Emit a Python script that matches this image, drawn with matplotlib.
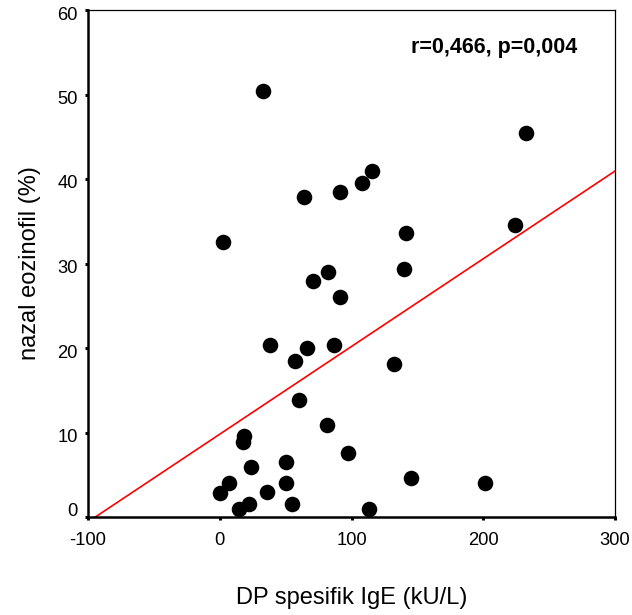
import matplotlib
matplotlib.use("Agg")
import matplotlib.pyplot as plt
import matplotlib.transforms as mtransforms
import numpy as np

# ---- data ----
dp_ige = [32.8, 232.2, 115.3, 108.2, 91.1, 64.1, 2.8, 224.1, 141.0, 139.7,
          82.5, 71.1, 91.3, 38.1, 66.6, 86.8, 57.3, 132.1, 59.8, 81.2,
          18.7, 17.5, 97.6, 23.8, 50.2, 144.8, 201.5, 6.9, 50.2, 0.5,
          35.6, 22.5, 14.4, 54.5, 113.4]
eozinofil = [50.4, 45.4, 40.9, 39.5, 38.5, 37.9, 32.5, 34.6, 33.6, 29.4,
             29.0, 27.9, 26.0, 20.4, 20.0, 20.4, 18.5, 18.1, 13.8, 10.9,
             9.6, 8.9, 7.6, 5.95, 6.5, 4.6, 4.0, 4.0, 4.0, 2.8,
             2.9, 1.5, 1.0, 1.5, 1.0]
fit_intercept = 9.8
fit_slope = 0.1038
x_ticks = [-100, 0, 100, 200, 300]
y_ticks = [0, 10, 20, 30, 40, 50, 60]
annotation = "r=0,466, p=0,004"
x_label = "DP spesifik IgE (kU/L)"
y_label = "nazal eozinofil (%)"

plt.rcParams['font.family'] = ['Liberation Sans', 'DejaVu Sans']

fig = plt.figure(figsize=(6.32, 6.15), dpi=100)
ax = fig.add_axes([88/632, (615-517)/615, (615-88)/632, (517-10)/615])

ax.set_xlim(-100, 300)
ax.set_ylim(0, 60)

# regression line
xl = np.array([x_ticks[0], x_ticks[-1]], dtype=float)
ax.plot(xl, fit_intercept + fit_slope * xl, color='#ff0000', lw=1.2, zorder=2)

# points
ax.plot(dp_ige, eozinofil, 'o', color='black', markersize=11.2,
        markeredgewidth=0, zorder=3, clip_on=False)

ax.set_xticks(x_ticks)
ax.set_yticks(y_ticks)
ax.set_xticklabels([str(v) for v in x_ticks])
ax.set_yticklabels([str(v) for v in y_ticks])
ax.tick_params(axis='both', direction='out', length=2.5, width=2.2,
               labelsize=13.2, colors='black', pad=5)
ax.tick_params(axis='x', pad=8)

# shift "0" y-label up a bit as in reference
for lab in ax.get_yticklabels():
    if lab.get_text() == '0':
        lab.set_transform(lab.get_transform() +
                          mtransforms.ScaledTranslation(0, 7/100, fig.dpi_scale_trans))
    else:
        lab.set_transform(lab.get_transform() +
                          mtransforms.ScaledTranslation(0, -3/100, fig.dpi_scale_trans))

for s in ['left', 'bottom']:
    ax.spines[s].set_linewidth(1.8)
for s in ['top', 'right']:
    ax.spines[s].set_linewidth(0.9)

ax.set_xlabel(x_label, fontsize=17, labelpad=28)
ax.set_ylabel(y_label, fontsize=17, labelpad=12)

ax.text(0.771, 0.927, annotation, transform=ax.transAxes, ha='center',
        va='center', fontsize=15.5, fontweight='bold')

fig.savefig("out.png", dpi=100)
